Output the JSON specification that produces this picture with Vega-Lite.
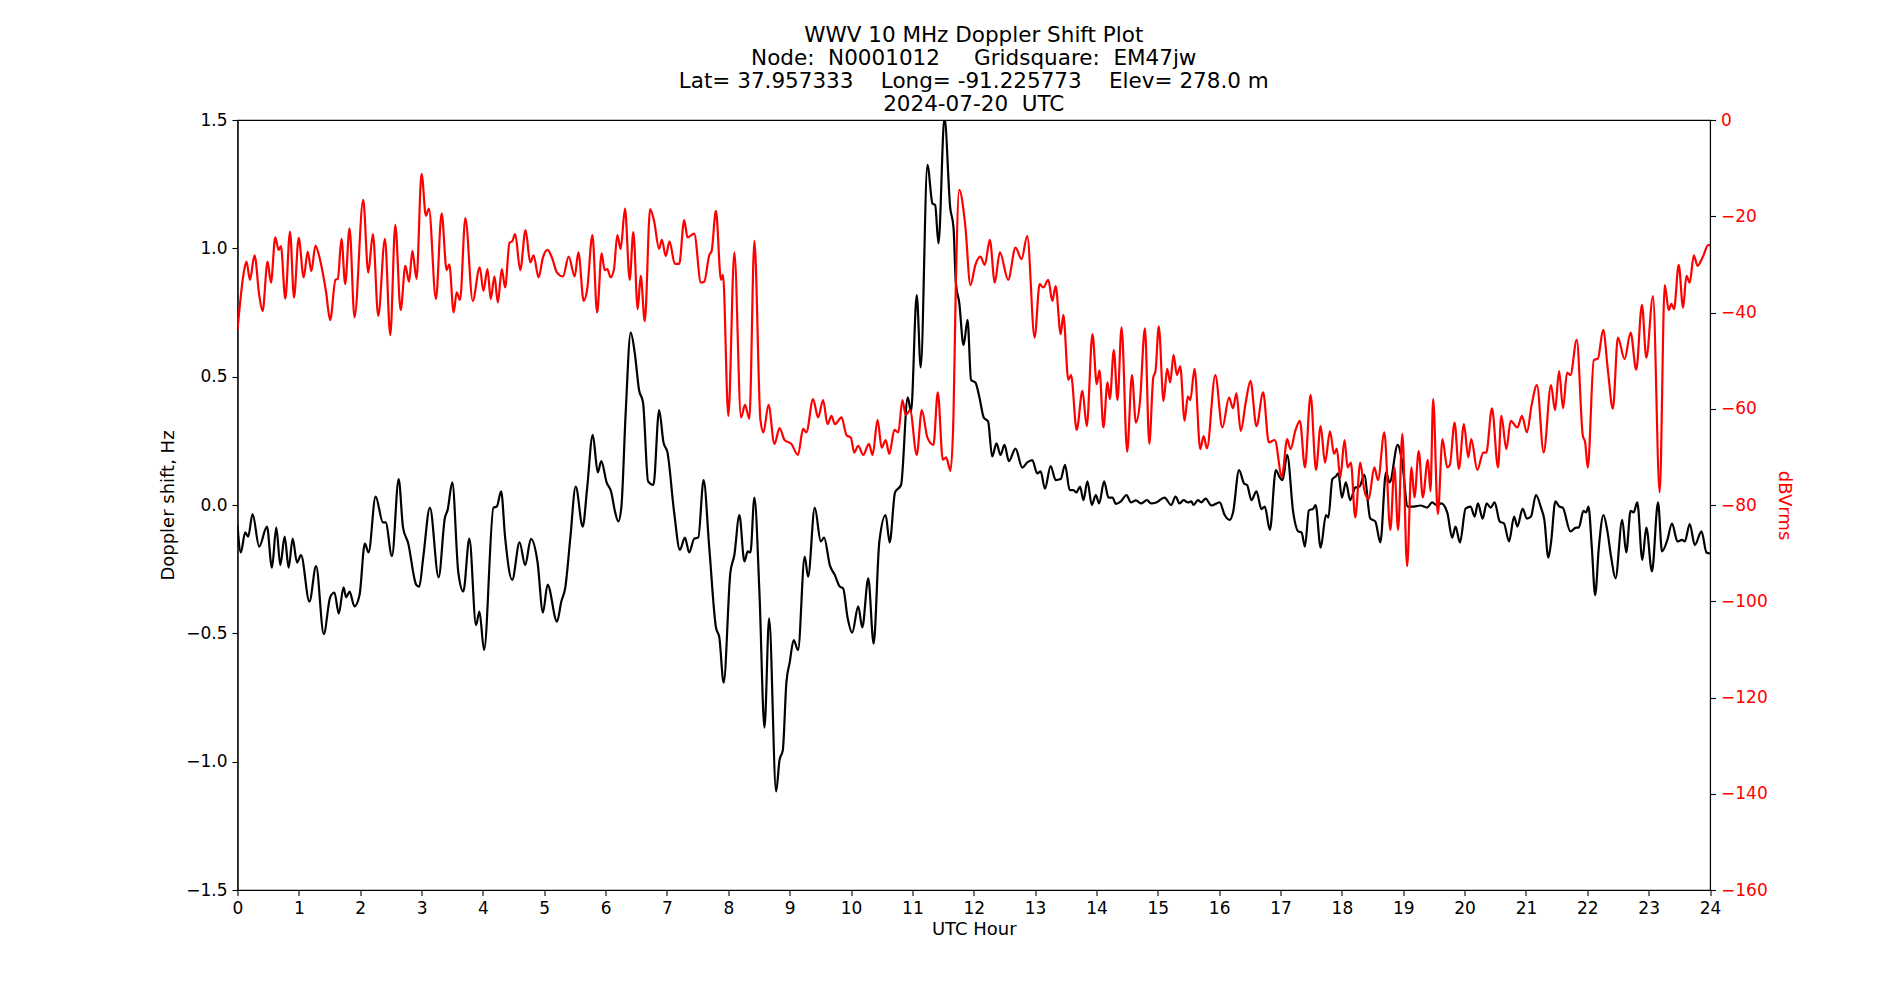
{
  "$schema": "https://vega.github.io/schema/vega-lite/v6.json",
  "autosize": {"type": "none"},
  "padding": {"left": 237.5, "top": 120, "right": 190, "bottom": 110},
  "width": 1472.5,
  "height": 770,
  "background": "white",
  "config": {
    "font": "DejaVu Sans",
    "view": {"stroke": "black", "strokeWidth": 1.1},
    "axis": {"grid": false, "labelFontSize": 17, "titleFontSize": 18, "titleFontWeight": "normal", "labelColor": "black", "titleColor": "black", "tickColor": "black", "domainColor": "black", "tickSize": 5.5, "labelPadding": 5, "labelFlush": false, "labelOverlap": false, "tickWidth": 1.1, "domainWidth": 1.1}
  },
  "title": {
    "text": ["WWV 10 MHz Doppler Shift Plot", "Node:\u00a0\u00a0N0001012\u00a0\u00a0\u00a0\u00a0\u00a0Gridsquare:\u00a0\u00a0EM47jw", "Lat=\u00a037.957333\u00a0\u00a0\u00a0\u00a0Long=\u00a0-91.225773\u00a0\u00a0\u00a0\u00a0Elev=\u00a0278.0\u00a0m", "2024-07-20\u00a0\u00a0UTC"],
    "fontSize": 21.5,
    "lineHeight": 23,
    "fontWeight": "normal",
    "color": "black",
    "anchor": "middle",
    "offset": -4
  },
  "datasets": {
    "doppler": [
      {"h":0,"v":-0.078},{"h":0.054,"v":-0.185},{"h":0.125,"v":-0.107},{"h":0.174,"v":-0.123},{"h":0.245,"v":-0.035},{"h":0.354,"v":-0.162},{"h":0.48,"v":-0.084},{"h":0.561,"v":-0.244},{"h":0.632,"v":-0.088},{"h":0.698,"v":-0.234},{"h":0.768,"v":-0.123},{"h":0.834,"v":-0.244},{"h":0.899,"v":-0.131},{"h":0.97,"v":-0.224},{"h":1.035,"v":-0.195},{"h":1.172,"v":-0.376},{"h":1.281,"v":-0.238},{"h":1.406,"v":-0.503},{"h":1.51,"v":-0.36},{"h":1.58,"v":-0.341},{"h":1.651,"v":-0.423},{"h":1.728,"v":-0.321},{"h":1.771,"v":-0.36},{"h":1.826,"v":-0.337},{"h":1.907,"v":-0.395},{"h":1.989,"v":-0.351},{"h":2.076,"v":-0.15},{"h":2.136,"v":-0.185},{"h":2.251,"v":0.033},{"h":2.371,"v":-0.068},{"h":2.414,"v":-0.068},{"h":2.518,"v":-0.199},{"h":2.627,"v":0.101},{"h":2.698,"v":-0.088},{"h":2.779,"v":-0.146},{"h":2.916,"v":-0.312},{"h":2.962,"v":-0.318},
      {"h":3.027,"v":-0.205},{"h":3.136,"v":-0.01},{"h":3.278,"v":-0.282},{"h":3.381,"v":-0.049},{"h":3.425,"v":-0.019},{"h":3.501,"v":0.088},{"h":3.599,"v":-0.263},{"h":3.681,"v":-0.337},{"h":3.779,"v":-0.131},{"h":3.888,"v":-0.468},{"h":3.943,"v":-0.415},{"h":4.019,"v":-0.565},{"h":4.172,"v":-0.01},{"h":4.226,"v":-0.006},{"h":4.297,"v":0.053},{"h":4.362,"v":-0.127},{"h":4.477,"v":-0.292},{"h":4.597,"v":-0.146},{"h":4.689,"v":-0.234},{"h":4.782,"v":-0.132},{"h":4.891,"v":-0.224},{"h":4.978,"v":-0.419},{"h":5.054,"v":-0.31},{"h":5.207,"v":-0.454},{"h":5.278,"v":-0.376},{"h":5.343,"v":-0.321},{"h":5.425,"v":-0.127},{"h":5.512,"v":0.072},{"h":5.627,"v":-0.084},{"h":5.698,"v":0.064},{"h":5.79,"v":0.273},{"h":5.872,"v":0.127},{"h":5.929,"v":0.171},
      {"h":6.016,"v":0.088},{"h":6.093,"v":0.049},{"h":6.147,"v":-0.019},{"h":6.207,"v":-0.064},{"h":6.256,"v":-0.01},{"h":6.327,"v":0.36},{"h":6.409,"v":0.672},{"h":6.474,"v":0.594},{"h":6.545,"v":0.448},{"h":6.61,"v":0.399},{"h":6.692,"v":0.092},{"h":6.779,"v":0.078},{"h":6.872,"v":0.37},{"h":6.943,"v":0.244},{"h":7.008,"v":0.205},{"h":7.117,"v":-0.029},{"h":7.21,"v":-0.175},{"h":7.292,"v":-0.127},{"h":7.362,"v":-0.185},{"h":7.444,"v":-0.131},{"h":7.51,"v":-0.127},{"h":7.597,"v":0.097},{"h":7.689,"v":-0.166},{"h":7.798,"v":-0.477},{"h":7.853,"v":-0.516},{"h":7.924,"v":-0.692},{"h":8.033,"v":-0.263},{"h":8.098,"v":-0.195},{"h":8.18,"v":-0.039},{"h":8.262,"v":-0.22},{"h":8.316,"v":-0.181},{"h":8.36,"v":-0.185},{"h":8.425,"v":0.029},{"h":8.507,"v":-0.341},{"h":8.589,"v":-0.867},{"h":8.665,"v":-0.442},{"h":8.779,"v":-1.116},{"h":8.834,"v":-0.994},{"h":8.888,"v":-0.955},{"h":8.946,"v":-0.692},
      {"h":9.0,"v":-0.614},{"h":9.065,"v":-0.526},{"h":9.136,"v":-0.565},{"h":9.245,"v":-0.201},{"h":9.3,"v":-0.279},{"h":9.409,"v":-0.01},{"h":9.507,"v":-0.142},{"h":9.561,"v":-0.127},{"h":9.654,"v":-0.234},{"h":9.736,"v":-0.273},{"h":9.817,"v":-0.318},{"h":9.872,"v":-0.325},{"h":9.943,"v":-0.438},{"h":10.019,"v":-0.497},{"h":10.117,"v":-0.395},{"h":10.183,"v":-0.477},{"h":10.281,"v":-0.286},{"h":10.368,"v":-0.54},{"h":10.46,"v":-0.146},{"h":10.564,"v":-0.039},{"h":10.629,"v":-0.146},{"h":10.717,"v":0.049},{"h":10.815,"v":0.078},{"h":10.924,"v":0.419},{"h":10.978,"v":0.364},{"h":11.071,"v":0.818},{"h":11.136,"v":0.536},{"h":11.245,"v":1.325},{"h":11.327,"v":1.175},{"h":11.371,"v":1.169},{"h":11.425,"v":1.019},{"h":11.523,"v":1.51},{"h":11.616,"v":1.159},{"h":11.67,"v":1.081},{"h":11.708,"v":0.867},{"h":11.763,"v":0.789},{"h":11.834,"v":0.623},{"h":11.899,"v":0.721},{"h":11.956,"v":0.487},
      {"h":12.027,"v":0.477},{"h":12.093,"v":0.419},{"h":12.163,"v":0.341},{"h":12.234,"v":0.325},{"h":12.3,"v":0.189},{"h":12.371,"v":0.24},{"h":12.436,"v":0.195},{"h":12.501,"v":0.234},{"h":12.572,"v":0.171},{"h":12.681,"v":0.22},{"h":12.79,"v":0.146},{"h":12.872,"v":0.166},{"h":12.954,"v":0.175},{"h":13.035,"v":0.123},{"h":13.09,"v":0.131},{"h":13.161,"v":0.064},{"h":13.253,"v":0.152},{"h":13.335,"v":0.097},{"h":13.417,"v":0.101},{"h":13.488,"v":0.156},{"h":13.564,"v":0.058},{"h":13.624,"v":0.058},{"h":13.673,"v":0.049},{"h":13.733,"v":0.072},{"h":13.787,"v":0.019},{"h":13.853,"v":0.092},{"h":13.924,"v":0.0},{"h":13.989,"v":0.039},{"h":14.044,"v":0.006},{"h":14.125,"v":0.092},{"h":14.196,"v":0.029},{"h":14.262,"v":0.029},{"h":14.316,"v":0.004},{"h":14.398,"v":0.014},{"h":14.49,"v":0.039},{"h":14.561,"v":0.01},{"h":14.643,"v":0.018},{"h":14.725,"v":0.006},{"h":14.823,"v":0.019},{"h":14.888,"v":0.006},{"h":14.973,"v":0.01},
      {"h":15.109,"v":0.029},{"h":15.218,"v":0.0},{"h":15.289,"v":0.033},{"h":15.354,"v":0.006},{"h":15.42,"v":0.019},{"h":15.49,"v":0.01},{"h":15.545,"v":0.014},{"h":15.583,"v":0.0},{"h":15.654,"v":0.019},{"h":15.708,"v":0.01},{"h":15.779,"v":0.025},{"h":15.872,"v":-0.002},{"h":16.008,"v":0.01},{"h":16.09,"v":-0.039},{"h":16.172,"v":-0.058},{"h":16.226,"v":-0.029},{"h":16.324,"v":0.136},{"h":16.406,"v":0.084},{"h":16.455,"v":0.078},{"h":16.526,"v":0.019},{"h":16.608,"v":0.053},{"h":16.689,"v":-0.016},{"h":16.744,"v":-0.006},{"h":16.826,"v":-0.097},{"h":16.924,"v":0.136},{"h":16.989,"v":0.107},{"h":17.033,"v":0.097},{"h":17.109,"v":0.195},{"h":17.207,"v":-0.029},{"h":17.289,"v":-0.103},{"h":17.343,"v":-0.107},{"h":17.398,"v":-0.162},{"h":17.463,"v":-0.021},{"h":17.534,"v":-0.014},{"h":17.572,"v":0.0},{"h":17.654,"v":-0.166},{"h":17.741,"v":-0.039},{"h":17.779,"v":-0.049},{"h":17.845,"v":0.101},{"h":17.899,"v":0.111},{"h":17.943,"v":0.123},
      {"h":18.0,"v":0.029},{"h":18.065,"v":0.088},{"h":18.136,"v":0.019},{"h":18.218,"v":0.068},{"h":18.289,"v":0.072},{"h":18.365,"v":0.117},{"h":18.463,"v":-0.053},{"h":18.545,"v":-0.064},{"h":18.627,"v":-0.146},{"h":18.719,"v":0.127},{"h":18.779,"v":0.088},{"h":18.91,"v":0.234},{"h":18.981,"v":0.169},{"h":19.074,"v":-0.006},{"h":19.172,"v":-0.006},{"h":19.281,"v":-0.002},{"h":19.39,"v":-0.01},{"h":19.471,"v":0.01},{"h":19.553,"v":-0.002},{"h":19.619,"v":0.006},{"h":19.717,"v":-0.029},{"h":19.798,"v":-0.127},{"h":19.853,"v":-0.084},{"h":19.924,"v":-0.146},{"h":20.016,"v":-0.014},{"h":20.098,"v":-0.006},{"h":20.163,"v":-0.045},{"h":20.218,"v":0.006},{"h":20.294,"v":-0.053},{"h":20.36,"v":0.006},{"h":20.425,"v":-0.01},{"h":20.49,"v":0.01},{"h":20.572,"v":-0.064},{"h":20.643,"v":-0.072},{"h":20.725,"v":-0.142},{"h":20.807,"v":-0.045},{"h":20.861,"v":-0.084},{"h":20.946,"v":-0.014},
      {"h":21.016,"v":-0.053},{"h":21.082,"v":-0.045},{"h":21.163,"v":0.039},{"h":21.245,"v":-0.01},{"h":21.3,"v":-0.058},{"h":21.365,"v":-0.205},{"h":21.409,"v":-0.146},{"h":21.48,"v":0.014},{"h":21.545,"v":-0.006},{"h":21.599,"v":-0.01},{"h":21.725,"v":-0.103},{"h":21.817,"v":-0.088},{"h":21.861,"v":-0.088},{"h":21.937,"v":-0.023},{"h":21.981,"v":-0.029},{"h":22.019,"v":-0.006},{"h":22.074,"v":-0.166},{"h":22.128,"v":-0.351},{"h":22.188,"v":-0.166},{"h":22.264,"v":-0.039},{"h":22.324,"v":-0.097},{"h":22.39,"v":-0.205},{"h":22.46,"v":-0.286},{"h":22.569,"v":-0.058},{"h":22.635,"v":-0.185},{"h":22.706,"v":-0.023},{"h":22.755,"v":-0.029},{"h":22.815,"v":0.01},{"h":22.897,"v":-0.214},{"h":22.962,"v":-0.088},{"h":23.054,"v":-0.259},{"h":23.153,"v":0.01},{"h":23.218,"v":-0.181},{"h":23.305,"v":-0.136},{"h":23.381,"v":-0.072},{"h":23.469,"v":-0.142},{"h":23.545,"v":-0.136},{"h":23.589,"v":-0.142},{"h":23.67,"v":-0.074},{"h":23.752,"v":-0.156},{"h":23.861,"v":-0.103},{"h":23.943,"v":-0.185},{"h":24.0,"v":-0.189}
    ],
    "power": [
      {"h":0,"v":-43.6},{"h":0.109,"v":-31.2},{"h":0.147,"v":-29.4},{"h":0.202,"v":-33.2},{"h":0.278,"v":-28.1},{"h":0.354,"v":-36.4},{"h":0.409,"v":-39.7},{"h":0.49,"v":-29.4},{"h":0.545,"v":-33.8},{"h":0.616,"v":-24.4},{"h":0.67,"v":-27},{"h":0.708,"v":-26.2},{"h":0.779,"v":-37.1},{"h":0.856,"v":-23.2},{"h":0.921,"v":-36.9},{"h":0.997,"v":-24.5},{"h":1.079,"v":-32.7},{"h":1.144,"v":-27.4},{"h":1.204,"v":-31.4},{"h":1.27,"v":-26.1},{"h":1.346,"v":-29.1},{"h":1.444,"v":-35.8},{"h":1.51,"v":-41.6},{"h":1.597,"v":-33.2},{"h":1.635,"v":-33},{"h":1.695,"v":-24.7},{"h":1.755,"v":-34.1},{"h":1.826,"v":-22.5},{"h":1.907,"v":-41},{"h":2.049,"v":-16.6},{"h":2.131,"v":-31.7},{"h":2.207,"v":-23.7},{"h":2.294,"v":-40.7},{"h":2.403,"v":-24.7},{"h":2.49,"v":-44.7},{"h":2.572,"v":-21.8},{"h":2.659,"v":-39.5},{"h":2.736,"v":-30.3},{"h":2.796,"v":-33.6},{"h":2.85,"v":-27.2},{"h":2.918,"v":-33},
      {"h":3.0,"v":-11.2},{"h":3.071,"v":-19.9},{"h":3.12,"v":-18.4},{"h":3.234,"v":-37.2},{"h":3.327,"v":-19.4},{"h":3.409,"v":-31.2},{"h":3.452,"v":-30},{"h":3.523,"v":-40},{"h":3.572,"v":-35.8},{"h":3.627,"v":-37.4},{"h":3.714,"v":-20.4},{"h":3.834,"v":-37.6},{"h":3.948,"v":-30.6},{"h":4.008,"v":-35.5},{"h":4.074,"v":-31},{"h":4.128,"v":-37.2},{"h":4.188,"v":-32.5},{"h":4.243,"v":-37.9},{"h":4.308,"v":-31},{"h":4.362,"v":-34.8},{"h":4.433,"v":-25.5},{"h":4.477,"v":-25.2},{"h":4.526,"v":-23.7},{"h":4.608,"v":-31.2},{"h":4.695,"v":-22.9},{"h":4.771,"v":-29.6},{"h":4.826,"v":-28.1},{"h":4.907,"v":-32.7},{"h":4.978,"v":-28.6},{"h":5.054,"v":-27},{"h":5.125,"v":-28.6},{"h":5.207,"v":-31.7},{"h":5.305,"v":-32.5},{"h":5.398,"v":-28.4},{"h":5.496,"v":-32.5},{"h":5.556,"v":-27.5},{"h":5.643,"v":-37.6},{"h":5.698,"v":-35.3},{"h":5.785,"v":-23.9},{"h":5.861,"v":-40},{"h":5.935,"v":-27.7},
      {"h":5.984,"v":-31.2},{"h":6.027,"v":-31},{"h":6.082,"v":-32.7},{"h":6.136,"v":-31},{"h":6.191,"v":-23.9},{"h":6.245,"v":-26.8},{"h":6.316,"v":-18.4},{"h":6.392,"v":-33.2},{"h":6.452,"v":-23.3},{"h":6.523,"v":-39.3},{"h":6.572,"v":-32.4},{"h":6.638,"v":-41.8},{"h":6.725,"v":-18.5},{"h":6.79,"v":-21},{"h":6.872,"v":-26.8},{"h":6.916,"v":-24.9},{"h":6.981,"v":-28.3},{"h":7.041,"v":-25.2},{"h":7.128,"v":-29.9},{"h":7.199,"v":-29.9},{"h":7.281,"v":-20.8},{"h":7.335,"v":-24.4},{"h":7.444,"v":-23.6},{"h":7.553,"v":-33.8},{"h":7.608,"v":-33.6},{"h":7.689,"v":-28.1},{"h":7.728,"v":-27.2},{"h":7.798,"v":-18.9},{"h":7.88,"v":-33.2},{"h":7.913,"v":-32.2},{"h":8.0,"v":-61.5},{"h":8.098,"v":-27.5},{"h":8.207,"v":-61.8},{"h":8.272,"v":-59.2},{"h":8.343,"v":-62.1},{"h":8.425,"v":-25.1},{"h":8.523,"v":-62.3},{"h":8.572,"v":-64.9},{"h":8.654,"v":-59.2},{"h":8.752,"v":-67.3},{"h":8.834,"v":-64},{"h":8.916,"v":-66.5},
      {"h":9.027,"v":-67.3},{"h":9.136,"v":-69.6},{"h":9.218,"v":-64.2},{"h":9.272,"v":-64.9},{"h":9.381,"v":-58},{"h":9.463,"v":-61.8},{"h":9.545,"v":-58.2},{"h":9.616,"v":-63.2},{"h":9.681,"v":-61.5},{"h":9.736,"v":-63.2},{"h":9.845,"v":-61.8},{"h":9.926,"v":-65.5},{"h":9.997,"v":-66},{"h":10.052,"v":-69.1},{"h":10.117,"v":-67.7},{"h":10.199,"v":-69.6},{"h":10.292,"v":-67.3},{"h":10.351,"v":-69.6},{"h":10.433,"v":-62.3},{"h":10.499,"v":-68.1},{"h":10.564,"v":-66.5},{"h":10.624,"v":-69.4},{"h":10.706,"v":-64.4},{"h":10.771,"v":-64.9},{"h":10.837,"v":-58.2},{"h":10.891,"v":-61.3},{"h":10.962,"v":-60.3},{"h":11.071,"v":-69.6},{"h":11.153,"v":-60.3},{"h":11.245,"v":-66},{"h":11.343,"v":-67.5},{"h":11.414,"v":-56.6},{"h":11.496,"v":-70.6},{"h":11.55,"v":-70.1},{"h":11.621,"v":-72.9},{"h":11.67,"v":-61.3},{"h":11.708,"v":-34.3},{"h":11.763,"v":-14.5},{"h":11.861,"v":-21.8},{"h":11.946,"v":-34.3},
      {"h":12.027,"v":-30.1},{"h":12.109,"v":-28.4},{"h":12.18,"v":-30.1},{"h":12.262,"v":-24.9},{"h":12.343,"v":-33.8},{"h":12.425,"v":-27.5},{"h":12.561,"v":-33.2},{"h":12.681,"v":-26.5},{"h":12.779,"v":-28.9},{"h":12.872,"v":-24.1},{"h":12.992,"v":-45.2},{"h":13.074,"v":-34.1},{"h":13.134,"v":-34.8},{"h":13.215,"v":-33.2},{"h":13.281,"v":-37.6},{"h":13.335,"v":-34.5},{"h":13.417,"v":-44.5},{"h":13.46,"v":-40.5},{"h":13.542,"v":-54},{"h":13.586,"v":-53},{"h":13.678,"v":-64.4},{"h":13.771,"v":-56.3},{"h":13.842,"v":-63.6},{"h":13.935,"v":-44.5},{"h":14.005,"v":-54.9},{"h":14.049,"v":-52},{"h":14.114,"v":-63.9},{"h":14.18,"v":-54.5},{"h":14.218,"v":-58},{"h":14.283,"v":-47.8},{"h":14.343,"v":-58.2},{"h":14.409,"v":-43.1},{"h":14.501,"v":-68.9},{"h":14.578,"v":-53},{"h":14.643,"v":-62.9},{"h":14.708,"v":-58.7},{"h":14.79,"v":-43.3},{"h":14.861,"v":-67.3},{"h":14.926,"v":-53.5},{"h":14.962,"v":-52.2},
      {"h":15.016,"v":-42.9},{"h":15.093,"v":-58.4},{"h":15.153,"v":-51.7},{"h":15.202,"v":-54.5},{"h":15.256,"v":-48.8},{"h":15.311,"v":-53},{"h":15.365,"v":-51.2},{"h":15.436,"v":-62.5},{"h":15.49,"v":-57.4},{"h":15.529,"v":-58.2},{"h":15.599,"v":-51.7},{"h":15.692,"v":-68.4},{"h":15.747,"v":-65.7},{"h":15.801,"v":-68.2},{"h":15.937,"v":-53},{"h":16.052,"v":-63.9},{"h":16.161,"v":-57.7},{"h":16.226,"v":-59.9},{"h":16.281,"v":-56.8},{"h":16.351,"v":-64.6},{"h":16.433,"v":-58.7},{"h":16.51,"v":-54.2},{"h":16.608,"v":-63.6},{"h":16.717,"v":-56.6},{"h":16.809,"v":-67},{"h":16.907,"v":-66.5},{"h":17.022,"v":-74.1},{"h":17.109,"v":-66.3},{"h":17.163,"v":-68.4},{"h":17.245,"v":-64.4},{"h":17.316,"v":-62.5},{"h":17.398,"v":-72.2},{"h":17.49,"v":-57.1},{"h":17.578,"v":-72.7},{"h":17.654,"v":-63.6},{"h":17.725,"v":-71.2},{"h":17.807,"v":-64.7},{"h":17.872,"v":-69.4},{"h":17.918,"v":-68.3},
      {"h":17.973,"v":-74.3},{"h":18.044,"v":-66.5},{"h":18.093,"v":-72.2},{"h":18.147,"v":-71.2},{"h":18.218,"v":-82.6},{"h":18.3,"v":-71.2},{"h":18.365,"v":-76.9},{"h":18.436,"v":-78.8},{"h":18.529,"v":-72.2},{"h":18.589,"v":-74.8},{"h":18.692,"v":-64.9},{"h":18.79,"v":-85.2},{"h":18.856,"v":-72.2},{"h":18.916,"v":-85.2},{"h":18.986,"v":-65.2},{"h":19.063,"v":-92.7},{"h":19.134,"v":-72.2},{"h":19.183,"v":-78.4},{"h":19.253,"v":-68.8},{"h":19.319,"v":-78.4},{"h":19.401,"v":-70.6},{"h":19.444,"v":-77.1},{"h":19.488,"v":-58},{"h":19.564,"v":-81.9},{"h":19.64,"v":-66.3},{"h":19.717,"v":-72.2},{"h":19.76,"v":-71.7},{"h":19.837,"v":-62.9},{"h":19.907,"v":-72.5},{"h":19.989,"v":-63.2},{"h":20.06,"v":-70.1},{"h":20.109,"v":-66.3},{"h":20.207,"v":-72.7},{"h":20.305,"v":-69.1},{"h":20.354,"v":-69.1},{"h":20.447,"v":-59.9},{"h":20.545,"v":-72.2},{"h":20.599,"v":-61.5},{"h":20.681,"v":-68.4},{"h":20.752,"v":-62.5},{"h":20.861,"v":-63.9},{"h":20.935,"v":-61.5},
      {"h":21.016,"v":-64.9},{"h":21.093,"v":-59.2},{"h":21.18,"v":-55.1},{"h":21.289,"v":-69.1},{"h":21.409,"v":-55.1},{"h":21.474,"v":-60.3},{"h":21.54,"v":-52.2},{"h":21.605,"v":-59.9},{"h":21.67,"v":-52.5},{"h":21.725,"v":-53},{"h":21.828,"v":-45.7},{"h":21.926,"v":-65.5},{"h":21.965,"v":-67},{"h":22.008,"v":-72.2},{"h":22.106,"v":-49.9},{"h":22.172,"v":-49.6},{"h":22.259,"v":-43.6},{"h":22.335,"v":-51.9},{"h":22.417,"v":-60},{"h":22.499,"v":-45.2},{"h":22.608,"v":-49.7},{"h":22.706,"v":-44.2},{"h":22.798,"v":-51.9},{"h":22.891,"v":-38.4},{"h":22.962,"v":-49.4},{"h":23.071,"v":-36.6},{"h":23.18,"v":-77.4},{"h":23.262,"v":-34.3},{"h":23.327,"v":-39.5},{"h":23.371,"v":-38.2},{"h":23.414,"v":-39.3},{"h":23.49,"v":-30.1},{"h":23.561,"v":-39},{"h":23.616,"v":-32.4},{"h":23.67,"v":-33.8},{"h":23.736,"v":-28.1},{"h":23.796,"v":-30.3},{"h":23.888,"v":-28.3},{"h":23.97,"v":-26},{"h":24.0,"v":-26}
    ]
  },
  "encoding": {
    "x": {
      "field": "h", "type": "quantitative",
      "scale": {"domain": [0, 24], "nice": false, "zero": false},
      "axis": {"values": [0,1,2,3,4,5,6,7,8,9,10,11,12,13,14,15,16,17,18,19,20,21,22,23,24], "format": "d", "title": "UTC Hour", "titlePadding": 4}
    }
  },
  "layer": [
    {
      "layer": [
        {
          "mark": {"type": "rule", "color": "#808080", "strokeWidth": 1.1},
          "encoding": {"y": {"datum": 0, "type": "quantitative"}, "x": {"datum": 0, "type": "quantitative"}, "x2": {"datum": 24}}
        },
        {
          "data": {"name": "doppler"},
          "mark": {"type": "line", "color": "black", "strokeWidth": 2.2, "interpolate": "monotone", "clip": true},
          "encoding": {
            "y": {
              "field": "v", "type": "quantitative",
              "scale": {"domain": [-1.5, 1.5], "nice": false, "zero": false},
              "axis": {"values": [-1.5,-1,-0.5,0,0.5,1,1.5], "format": ".1f", "title": "Doppler shift, Hz", "titlePadding": 8, "orient": "left"}
            }
          }
        }
      ]
    },
    {
      "data": {"name": "power"},
      "mark": {"type": "line", "color": "red", "strokeWidth": 2.2, "interpolate": "monotone", "clip": true},
      "encoding": {
        "y": {
          "field": "v", "type": "quantitative",
          "scale": {"domain": [-160, 0], "nice": false, "zero": false},
          "axis": {"orient": "right", "values": [0,-20,-40,-60,-80,-100,-120,-140,-160], "format": "d", "title": "dBVrms", "labelColor": "red", "titleColor": "red", "titlePadding": 7}
        }
      }
    }
  ],
  "resolve": {"scale": {"y": "independent"}, "axis": {"y": "independent"}}
}
